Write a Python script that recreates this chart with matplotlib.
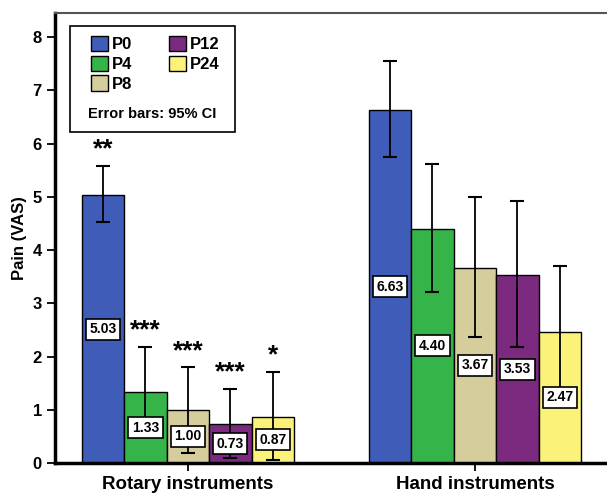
import matplotlib.pyplot as plt
import numpy as np
from matplotlib.patches import Rectangle

plt.rcParams['font.family'] = ['Liberation Sans', 'DejaVu Sans']

groups = ['Rotary instruments', 'Hand instruments']
series = ['P0', 'P4', 'P8', 'P12', 'P24']
colors = ['#3f5cb8', '#35b449', '#d6cd9c', '#7c2a80', '#fbf27a']

means = [[5.03, 6.63], [1.33, 4.40], [1.00, 3.67], [0.73, 3.53], [0.87, 2.47]]
ci_low = [[4.53, 5.75], [0.50, 3.21], [0.19, 2.37], [0.09, 2.18], [0.05, 1.25]]
ci_high = [[5.58, 7.55], [2.18, 5.61], [1.80, 5.00], [1.39, 4.92], [1.71, 3.70]]
stars = [['**', ''], ['***', ''], ['***', ''], ['***', ''], ['*', '']]

fig = plt.figure(figsize=(6.07, 5.01), dpi=100)
ax = fig.add_axes([0.0906, 0.0758, 0.9094, 0.898])

x = np.arange(len(groups))
w = 0.148
for i, s in enumerate(series):
    xs = x + (i - 2) * w
    m = np.array(means[i])
    lo = m - np.array(ci_low[i])
    hi = np.array(ci_high[i]) - m
    ax.bar(xs, m, w, color=colors[i], edgecolor='black', linewidth=1, label=s, zorder=2)
    ax.errorbar(xs, m, yerr=[lo, hi], fmt='none', ecolor='black', elinewidth=1.3,
                capsize=5, capthick=1.5, zorder=3)
    for j in range(len(groups)):
        ax.text(xs[j], m[j] / 2, '%.2f' % m[j], ha='center', va='center', fontsize=10,
                fontweight='bold', fontstretch='condensed', zorder=4,
                bbox=dict(boxstyle='square,pad=0.25', fc='white', ec='black', lw=1.2))
        if stars[i][j]:
            ax.text(xs[j], ci_high[i][j] + 0.08, stars[i][j], ha='center', va='bottom',
                    fontsize=19, fontweight='bold', zorder=4)

ax.set_xlim(-0.463, 1.46)
ax.set_ylim(0, 8.45)
ax.set_xticks(x)
ax.set_xticklabels(groups, fontsize=13.5, fontweight='bold')
ax.set_yticks(range(0, 9))
ax.set_yticklabels([str(v) for v in range(0, 9)], fontsize=12, fontweight='bold')
ax.set_ylabel('Pain (VAS)', fontsize=12, fontweight='bold')
ax.tick_params(axis='both', direction='out', length=6, width=1.3)
ax.spines['left'].set_linewidth(2.5)
ax.spines['bottom'].set_linewidth(2.5)
ax.spines['top'].set_linewidth(1.5)
ax.spines['top'].set_color('#555555')
ax.spines['right'].set_visible(False)

ax.add_patch(Rectangle((0.027, 0.736), 0.299, 0.235, transform=ax.transAxes,
                       fc='white', ec='black', lw=1.2, zorder=5))
leg = ax.legend(ncol=2, loc='upper left', bbox_to_anchor=(0.05, 0.968), frameon=False,
                fontsize=12, handlelength=1.05, handleheight=1.05, handletextpad=0.2,
                columnspacing=2.2, labelspacing=0.2, borderpad=0)
leg.set_zorder(6)
for t in leg.get_texts():
    t.set_fontweight('bold')
ax.text(0.176, 0.775, 'Error bars: 95% CI', transform=ax.transAxes, ha='center',
        va='center', fontsize=10.5, fontweight='bold', zorder=6)

plt.savefig('out.png', dpi=100)
